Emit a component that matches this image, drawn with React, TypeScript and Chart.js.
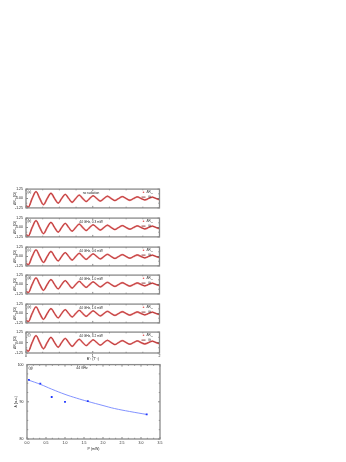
import React, { useEffect, useRef } from 'react';
import { Chart, registerables } from 'chart.js';

Chart.register(...registerables);

// ---------- data: oscillation panels ----------
const B_INV = [0, 0.034, 0.092, 0.15, 0.206, 0.262, 0.318, 0.374, 0.428, 0.482, 0.534, 0.588, 0.64, 0.692, 0.744, 0.798, 0.85, 0.902, 0.954, 1.006, 1.06, 1.114, 1.168, 1.22, 1.276, 1.332, 1.388, 1.444, 1.5, 1.556, 1.612, 1.668, 1.724, 1.78, 1.836, 1.892, 1.948, 2.0];

const PANEL_A = [-0.9, -1.15, 0, 0.92, 0, -0.82, 0, 0.7, 0, -0.62, 0, 0.55, 0, -0.5, 0, 0.44, 0, -0.4, 0, 0.36, 0, -0.33, 0, 0.3, 0, -0.27, 0, 0.25, 0, -0.23, 0, 0.21, 0, -0.19, 0, 0.18, 0, -0.16];
const PANEL_B = [-0.89, -1.14, 0, 0.91, 0, -0.81, 0, 0.69, 0, -0.62, 0, 0.55, 0, -0.49, 0, 0.44, 0, -0.4, 0, 0.35, 0, -0.33, 0, 0.3, 0, -0.27, 0, 0.25, 0, -0.22, 0, 0.21, 0, -0.19, 0, 0.18, 0, -0.16];
const PANEL_C = [-0.86, -1.1, 0, 0.88, 0, -0.78, 0, 0.67, 0, -0.59, 0, 0.52, 0, -0.47, 0, 0.42, 0, -0.38, 0, 0.34, 0, -0.31, 0, 0.28, 0, -0.26, 0, 0.24, 0, -0.22, 0, 0.2, 0, -0.18, 0, 0.17, 0, -0.15];
const PANEL_D = [-0.85, -1.08, 0, 0.87, 0, -0.77, 0, 0.66, 0, -0.58, 0, 0.52, 0, -0.47, 0, 0.41, 0, -0.38, 0, 0.34, 0, -0.31, 0, 0.28, 0, -0.25, 0, 0.23, 0, -0.21, 0, 0.2, 0, -0.18, 0, 0.17, 0, -0.15];
const PANEL_E = [-0.85, -1.08, 0, 0.87, 0, -0.77, 0, 0.66, 0, -0.58, 0, 0.51, 0, -0.46, 0, 0.41, 0, -0.37, 0, 0.34, 0, -0.31, 0, 0.28, 0, -0.25, 0, 0.23, 0, -0.21, 0, 0.2, 0, -0.18, 0, 0.17, 0, -0.15];
const PANEL_F = [-0.82, -1.04, 0, 0.83, 0, -0.74, 0, 0.63, 0, -0.56, 0, 0.49, 0, -0.45, 0, 0.39, 0, -0.36, 0, 0.32, 0, -0.3, 0, 0.27, 0, -0.24, 0, 0.22, 0, -0.2, 0, 0.19, 0, -0.17, 0, 0.16, 0, -0.14];

const OSC_PANELS = [PANEL_A, PANEL_B, PANEL_C, PANEL_D, PANEL_E, PANEL_F];
const PANEL_LETTERS = ['(a)', '(b)', '(c)', '(d)', '(e)', '(f)'];
const PANEL_TITLES = ['no radiation', '44 GHz, 0.3 mW', '44 GHz, 0.6 mW', '44 GHz, 1.0 mW', '44 GHz, 1.6 mW', '44 GHz, 3.2 mW'];

const OSC_X_TICKS = [0, 1, 2];
const OSC_X_MINOR = [0.25, 0.5, 0.75, 1.25, 1.5, 1.75];
const OSC_Y_TICKS = [-1.25, 0, 1.25];
const OSC_Y_MINOR = [-0.625, 0.625];

// ---------- data: amplitude vs power ----------
const POWER = [0.05, 0.35, 0.65, 1.0, 1.6, 3.15];
const AMPLITUDE = [95.9, 94.9, 91.3, 90.0, 90.2, 86.6];
const FIT_P = [0.05, 0.35, 0.65, 1.0, 1.3, 1.6, 2.0, 2.3, 2.7, 3.15];
const FIT_A = [95.8, 94.7, 93.4, 92.0, 91.0, 90.1, 89.0, 88.2, 87.4, 86.6];

const P_TICKS = [0, 0.5, 1, 1.5, 2, 2.5, 3, 3.5];
const P_MINOR = [0.167, 0.333, 0.667, 0.833, 1.167, 1.333, 1.667, 1.833, 2.167, 2.333, 2.667, 2.833, 3.167, 3.333];
const A_TICKS = [80, 90, 100];
const A_MINOR = [82.5, 85, 87.5, 92.5, 95, 97.5];

// ---------- layout / style ----------
const FONT = '"Liberation Sans", Arial, sans-serif';
const PANEL_TOPS = [187, 216, 245, 273, 302, 330];
const PANEL_H = 23;
const TXT = '#222';

function drawSub(ctx: CanvasRenderingContext2D, x: number, y: number, main: string, sub: string, size: number) {
  ctx.font = `${size}px ${FONT}`;
  ctx.textAlign = 'left';
  ctx.fillText(main, x, y);
  const w = ctx.measureText(main).width;
  ctx.font = `${size * 0.7}px ${FONT}`;
  ctx.fillText(sub, x + w, y + size * 0.3);
}

function makeDeco(cfg: {
  xMajor: number[]; xMinor: number[]; yMajor: number[]; yMinor: number[];
  texts: (ctx: CanvasRenderingContext2D, a: any) => void;
}) {
  return {
    id: 'deco',
    afterDraw(chart: any) {
      const { ctx, chartArea: a, scales } = chart;
      const xs = scales.x, ys = scales.y;
      ctx.save();
      ctx.strokeStyle = '#3a3a3a';
      ctx.lineWidth = 0.6;
      const seg = (x1: number, y1: number, x2: number, y2: number) => {
        ctx.beginPath(); ctx.moveTo(x1, y1); ctx.lineTo(x2, y2); ctx.stroke();
      };
      cfg.xMajor.forEach(v => { const p = xs.getPixelForValue(v); seg(p, a.bottom, p, a.bottom - 2); seg(p, a.top, p, a.top + 2); });
      cfg.xMinor.forEach(v => { const p = xs.getPixelForValue(v); seg(p, a.bottom, p, a.bottom - 1.2); seg(p, a.top, p, a.top + 1.2); });
      cfg.yMajor.forEach(v => { const p = ys.getPixelForValue(v); seg(a.left, p, a.left + 2, p); seg(a.right, p, a.right - 2, p); });
      cfg.yMinor.forEach(v => { const p = ys.getPixelForValue(v); seg(a.left, p, a.left + 1.2, p); seg(a.right, p, a.right - 1.2, p); });
      ctx.strokeStyle = '#8a8a8a';
      ctx.lineWidth = 1.3;
      ctx.strokeRect(a.left, a.top, a.right - a.left, a.bottom - a.top);
      ctx.fillStyle = TXT;
      ctx.textBaseline = 'middle';
      cfg.texts(ctx, a);
      ctx.restore();
    },
  };
}

function oscConfig(i: number): any {
  const vals = OSC_PANELS[i];
  const pts = B_INV.map((x, k) => ({ x, y: vals[k] }));
  const last = i === OSC_PANELS.length - 1;
  const tickFont = { size: 3.5, family: FONT };
  return {
    type: 'line',
    data: {
      datasets: [
        { label: 'ΔRxx', data: pts, borderColor: 'rgba(222,70,70,0.65)', borderWidth: 1.8, pointRadius: 0, cubicInterpolationMode: 'monotone' },
        { label: 'fit', data: pts, borderColor: '#761414', borderWidth: 1.0, pointRadius: 0, cubicInterpolationMode: 'monotone' },
      ],
    },
    options: {
      responsive: false,
      animation: false,
      events: [],
      layout: { padding: { top: 3, right: 6.5, bottom: 0, left: 0 } },
      plugins: { legend: { display: false }, tooltip: { enabled: false } },
      scales: {
        x: {
          type: 'linear', min: 0, max: 2,
          grid: { display: false, drawTicks: false, tickLength: 0 },
          border: { display: false },
          afterBuildTicks: (s: any) => { s.ticks = OSC_X_TICKS.map(v => ({ value: v })); },
          afterFit: (s: any) => { s.height = last ? 10 : 3; },
          ticks: { display: last, font: tickFont, color: TXT, padding: 1, maxRotation: 0, autoSkip: false, callback: (v: any) => String(v) },
          title: last ? { display: true, text: 'B⁻¹ (T⁻¹)', font: tickFont, color: TXT, padding: { top: 0, bottom: 1.4 } } : { display: false },
        },
        y: {
          min: -1.25, max: 1.25,
          grid: { display: false, drawTicks: false, tickLength: 0 },
          border: { display: false },
          afterBuildTicks: (s: any) => { s.ticks = OSC_Y_TICKS.map(v => ({ value: v })); },
          afterFit: (s: any) => { s.width = 26; },
          ticks: { font: tickFont, color: TXT, padding: 3, callback: (v: any) => Number(v).toFixed(2) },
          title: { display: true, text: 'ΔRₓₓ (Ω)', font: tickFont, color: TXT, padding: { top: 12.5, bottom: 0 } },
        },
      },
    },
    plugins: [
      makeDeco({
        xMajor: OSC_X_TICKS, xMinor: OSC_X_MINOR, yMajor: OSC_Y_TICKS, yMinor: OSC_Y_MINOR,
        texts: (ctx, a) => {
          ctx.font = `3.2px ${FONT}`;
          ctx.textAlign = 'left';
          ctx.fillText(PANEL_LETTERS[i], a.left + 1.5, a.top + 3.2);
          ctx.textAlign = 'center';
          ctx.fillText(PANEL_TITLES[i], 91, a.top + 4);
          // legend
          ctx.fillStyle = '#e05050';
          ctx.beginPath(); ctx.arc(143.5, a.top + 3.2, 0.8, 0, Math.PI * 2); ctx.fill();
          ctx.fillStyle = TXT;
          drawSub(ctx, 146.5, a.top + 3.2, 'ΔR', 'xx', 3);
          ctx.strokeStyle = '#761414'; ctx.lineWidth = 0.8;
          ctx.beginPath(); ctx.moveTo(141.5, a.top + 8); ctx.lineTo(145.5, a.top + 8); ctx.stroke();
          ctx.font = `3px ${FONT}`; ctx.textAlign = 'left';
          ctx.fillText('fit', 148.5, a.top + 8);
        },
      }),
    ],
  };
}

function powerConfig(): any {
  const tickFont = { size: 3.5, family: FONT };
  return {
    type: 'scatter',
    data: {
      datasets: [
        { label: 'A', data: POWER.map((p, k) => ({ x: p, y: AMPLITUDE[k] })), backgroundColor: '#2038ff', borderColor: '#2038ff', pointStyle: 'rect', pointRadius: 1.3, borderWidth: 0 },
        { label: 'fit', type: 'line', data: FIT_P.map((p, k) => ({ x: p, y: FIT_A[k] })), borderColor: '#7486ff', borderWidth: 0.9, pointRadius: 0, tension: 0.4, fill: false },
      ],
    },
    options: {
      responsive: false,
      animation: false,
      events: [],
      layout: { padding: { top: 5, right: 6, bottom: 0, left: 0 } },
      plugins: { legend: { display: false }, tooltip: { enabled: false } },
      scales: {
        x: {
          type: 'linear', min: 0, max: 3.5,
          grid: { display: false, drawTicks: false, tickLength: 0 },
          border: { display: false },
          afterBuildTicks: (s: any) => { s.ticks = P_TICKS.map(v => ({ value: v })); },
          afterFit: (s: any) => { s.height = 23; },
          ticks: { font: tickFont, color: TXT, padding: 2, maxRotation: 0, autoSkip: false, callback: (v: any) => Number(v).toFixed(1) },
          title: { display: true, text: 'P (mW)', font: tickFont, color: TXT, padding: { top: 0, bottom: 10.5 } },
        },
        y: {
          min: 80, max: 100,
          grid: { display: false, drawTicks: false, tickLength: 0 },
          border: { display: false },
          afterBuildTicks: (s: any) => { s.ticks = A_TICKS.map(v => ({ value: v })); },
          afterFit: (s: any) => { s.width = 27; },
          ticks: { font: tickFont, color: TXT, padding: 3.5, callback: (v: any) => String(v) },
          title: { display: true, text: 'A (a.u.)', font: tickFont, color: TXT, padding: { top: 13.5, bottom: 0 } },
        },
      },
    },
    plugins: [
      makeDeco({
        xMajor: P_TICKS, xMinor: P_MINOR, yMajor: A_TICKS, yMinor: A_MINOR,
        texts: (ctx, a) => {
          ctx.font = `3.4px ${FONT}`;
          ctx.textAlign = 'left';
          ctx.fillText('(g)', a.left + 1.5, a.top + 3.5);
          ctx.textAlign = 'center';
          ctx.fillText('44 GHz', 82, a.top + 3.5);
        },
      }),
    ],
  };
}

export default function App() {
  const oscRefs = useRef<(HTMLCanvasElement | null)[]>([]);
  const powRef = useRef<HTMLCanvasElement | null>(null);

  useEffect(() => {
    const charts: Chart[] = [];
    OSC_PANELS.forEach((_, i) => {
      const cv = oscRefs.current[i];
      if (cv) charts.push(new Chart(cv, oscConfig(i)));
    });
    if (powRef.current) charts.push(new Chart(powRef.current, powerConfig()));
    return () => charts.forEach(c => c.destroy());
  }, []);

  return (
    <div style={{ position: 'absolute', left: 0, top: 0, width: 346, height: 462, background: '#fff', overflow: 'hidden' }}>
      {PANEL_TOPS.map((t, i) => {
        const h = 3 + PANEL_H + (i === PANEL_TOPS.length - 1 ? 10 : 3);
        return (
          <canvas
            key={i}
            ref={el => { oscRefs.current[i] = el; }}
            width={166}
            height={h}
            style={{ position: 'absolute', left: 0, top: t - 3, width: 166, height: h }}
          />
        );
      })}
      <canvas ref={powRef} width={166} height={103} style={{ position: 'absolute', left: 0, top: 359, width: 166, height: 103 }} />
    </div>
  );
}
